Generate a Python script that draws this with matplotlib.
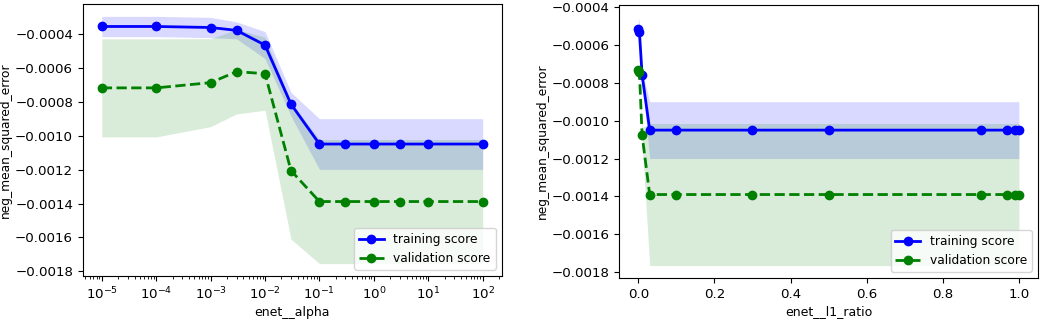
import matplotlib.pyplot as plt
import numpy as np

# valores
alpha = [1e-5, 1e-4, 1e-3, 3e-3, 1e-2, 3e-2, 1e-1, 3e-1, 1, 3, 10, 100]
alpha_train_mean = [-0.000353, -0.000353, -0.000359, -0.000376, -0.000463, -0.000812,
                    -0.001048, -0.001048, -0.001048, -0.001048, -0.001048, -0.001048]
alpha_train_std = [0.00006, 0.00006, 0.00006, 0.00005, 0.00008, 0.00007,
                   0.00015, 0.00015, 0.00015, 0.00015, 0.00015, 0.00015]
alpha_val_mean = [-0.000716, -0.000716, -0.000685, -0.00062, -0.000632, -0.001205,
                  -0.001388, -0.001388, -0.001388, -0.001388, -0.001388, -0.001388]
alpha_val_std = [0.00029, 0.00029, 0.00026, 0.00025, 0.000216, 0.000405,
                 0.000367, 0.000367, 0.000367, 0.000367, 0.000367, 0.000367]
alpha_ticks = [1e-5, 1e-4, 1e-3, 1e-2, 1e-1, 1, 10, 100]

l1_ratio = [0.0, 0.003, 0.01, 0.03, 0.1, 0.3, 0.5, 0.9, 0.97, 0.99, 1.0]
l1_train_mean = [-0.000515, -0.000534, -0.000758, -0.00105, -0.00105, -0.00105,
                 -0.00105, -0.00105, -0.00105, -0.00105, -0.00105]
l1_train_std = [0.00006, 0.00005, 0.00002, 0.00015, 0.00015, 0.00015,
                0.00015, 0.00015, 0.00015, 0.00015, 0.00015]
l1_val_mean = [-0.000732, -0.000744, -0.001076, -0.00139, -0.00139, -0.00139,
               -0.00139, -0.00139, -0.00139, -0.00139, -0.00139]
l1_val_std = [0.00001, 0.00001, 0.00004, 0.000375, 0.000375, 0.000375,
              0.000375, 0.000375, 0.000375, 0.000375, 0.000375]


def curva_validacion(ax, x, tr_m, tr_s, va_m, va_s, xlabel, logx=False):
    x = np.array(x)
    tr_m, tr_s = np.array(tr_m), np.array(tr_s)
    va_m, va_s = np.array(va_m), np.array(va_s)

    ax.plot(x, tr_m, 'o-', color='b', lw=2, ms=6, label='training score')
    ax.fill_between(x, tr_m - tr_s, tr_m + tr_s, color='b', alpha=0.15, lw=0)
    ax.plot(x, va_m, 'o--', color='g', lw=2, ms=6, label='validation score')
    ax.fill_between(x, va_m - va_s, va_m + va_s, color='g', alpha=0.15, lw=0)

    if logx:
        ax.set_xscale('log')
        ax.set_xticks(alpha_ticks)
    ax.tick_params(labelsize=9.6)
    ax.set_xlabel(xlabel, fontsize=9, labelpad=3)
    ax.set_ylabel('neg_mean_squared_error', fontsize=8.8, labelpad=2)
    ax.legend(loc='lower right', fontsize=8.8)


fig = plt.figure(figsize=(10.42, 3.34), dpi=100)
ax1 = fig.add_axes([0.0794, 0.1737, 0.4021, 0.8144])
ax2 = fig.add_axes([0.5943, 0.1677, 0.4018, 0.8174])

curva_validacion(ax1, alpha, alpha_train_mean, alpha_train_std,
                 alpha_val_mean, alpha_val_std, 'enet__alpha', logx=True)
curva_validacion(ax2, l1_ratio, l1_train_mean, l1_train_std,
                 l1_val_mean, l1_val_std, 'enet__l1_ratio')

fig.savefig('out.png', dpi=100)
